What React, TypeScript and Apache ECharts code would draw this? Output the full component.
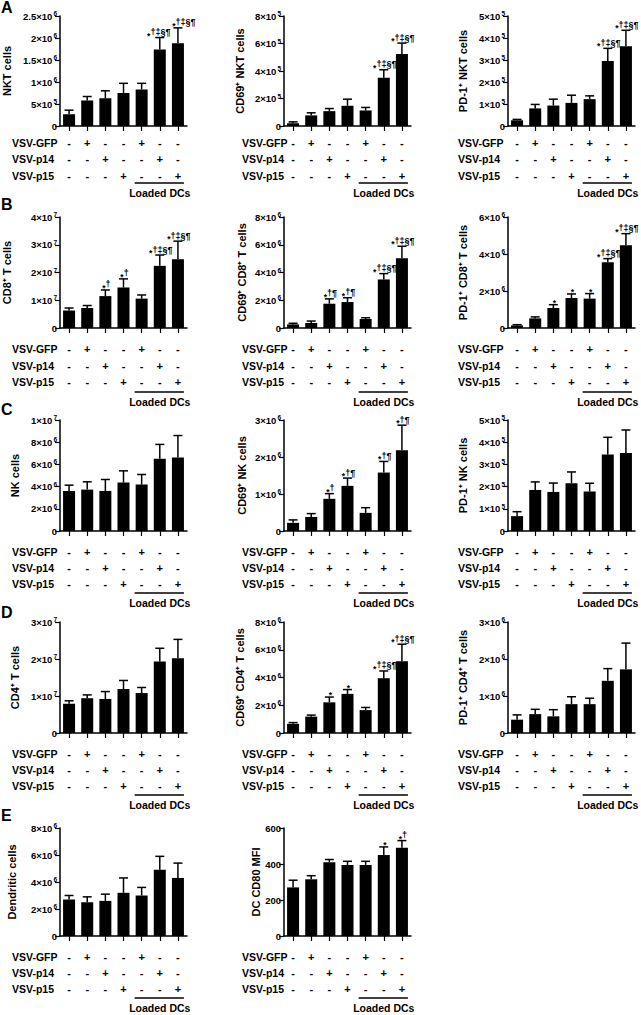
import React, { useEffect, useRef } from 'react';
import * as echarts from 'echarts';

// ---------- data ----------
const categories = ['G1', 'G2', 'G3', 'G4', 'G5', 'G6', 'G7'];
const vsvGFP = ['-', '+', '-', '-', '+', '-', '-'];
const vsvP14 = ['-', '-', '+', '-', '-', '+', '-'];
const vsvP15 = ['-', '-', '-', '+', '-', '-', '+'];
const rowLabels = ['VSV-GFP', 'VSV-p14', 'VSV-p15'];
const groupLabel = 'Loaded DCs';
const panelLetters = ['A', 'B', 'C', 'D', 'E'];

const sigAll = '*†‡§¶';

// A
const nktMean = [2.65e5, 5.8e5, 6.3e5, 7.5e5, 8.3e5, 1.74e6, 1.88e6];
const nktErr = [0.95e5, 0.9e5, 1.7e5, 2.2e5, 1.4e5, 2.7e5, 3.5e5];
const nktSig = ['', '', '', '', '', sigAll, sigAll];
const cd69NktMean = [2.0e4, 7.7e4, 1.08e5, 1.47e5, 1.13e5, 3.51e5, 5.24e5];
const cd69NktErr = [1.0e4, 1.9e4, 1.9e4, 4.8e4, 2.2e4, 5.8e4, 7.9e4];
const cd69NktSig = ['', '', '', '', '', sigAll, sigAll];
const pd1NktMean = [2.6e4, 8.0e4, 9.3e4, 1.05e5, 1.22e5, 2.96e5, 3.63e5];
const pd1NktErr = [0.4e4, 1.8e4, 2.9e4, 3.5e4, 1.5e4, 5.7e4, 7.2e4];
const pd1NktSig = ['', '', '', '', '', sigAll, sigAll];
// B
const cd8Mean = [0.63e7, 0.72e7, 1.15e7, 1.46e7, 1.06e7, 2.24e7, 2.48e7];
const cd8Err = [0.09e7, 0.09e7, 0.22e7, 0.31e7, 0.13e7, 0.39e7, 0.65e7];
const cd8Sig = ['', '', '*†', '*†', '', sigAll, sigAll];
const cd69Cd8Mean = [0.26e6, 0.36e6, 1.75e6, 1.87e6, 0.65e6, 3.5e6, 5.02e6];
const cd69Cd8Err = [0.08e6, 0.14e6, 0.35e6, 0.31e6, 0.09e6, 0.42e6, 0.87e6];
const cd69Cd8Sig = ['', '', '*†¶', '*†¶', '', sigAll, sigAll];
const pd1Cd8Mean = [0.14e6, 0.52e6, 1.08e6, 1.62e6, 1.59e6, 3.55e6, 4.47e6];
const pd1Cd8Err = [0.04e6, 0.08e6, 0.18e6, 0.22e6, 0.27e6, 0.2e6, 0.63e6];
const pd1Cd8Sig = ['', '', '*', '*', '*', sigAll, sigAll];
// C
const nkMean = [3.61e6, 3.73e6, 3.61e6, 4.37e6, 4.19e6, 6.5e6, 6.63e6];
const nkErr = [0.52e6, 0.7e6, 1.03e6, 1.05e6, 0.9e6, 1.3e6, 1.97e6];
const nkSig = ['', '', '', '', '', '', ''];
const cd69NkMean = [0.22e6, 0.38e6, 0.87e6, 1.22e6, 0.49e6, 1.58e6, 2.18e6];
const cd69NkErr = [0.08e6, 0.09e6, 0.14e6, 0.21e6, 0.14e6, 0.3e6, 0.68e6];
const cd69NkSig = ['', '', '*†', '*†¶', '', '*†¶', '*†¶'];
const pd1NkMean = [0.67e5, 1.85e5, 1.76e5, 2.15e5, 1.78e5, 3.45e5, 3.51e5];
const pd1NkErr = [0.2e5, 0.36e5, 0.4e5, 0.51e5, 0.37e5, 0.77e5, 1.04e5];
const pd1NkSig = ['', '', '', '', '', '', ''];
// D
const cd4Mean = [0.79e7, 0.94e7, 0.92e7, 1.19e7, 1.08e7, 1.93e7, 2.02e7];
const cd4Err = [0.08e7, 0.09e7, 0.2e7, 0.23e7, 0.15e7, 0.36e7, 0.51e7];
const cd4Sig = ['', '', '', '', '', '', ''];
const cd69Cd4Mean = [0.66e6, 1.18e6, 2.21e6, 2.82e6, 1.65e6, 3.95e6, 5.18e6];
const cd69Cd4Err = [0.09e6, 0.11e6, 0.38e6, 0.31e6, 0.19e6, 0.52e6, 1.22e6];
const cd69Cd4Sig = ['', '', '*', '*', '', sigAll, sigAll];
const pd1Cd4Mean = [0.36e6, 0.51e6, 0.45e6, 0.78e6, 0.78e6, 1.41e6, 1.72e6];
const pd1Cd4Err = [0.13e6, 0.13e6, 0.18e6, 0.2e6, 0.16e6, 0.33e6, 0.71e6];
const pd1Cd4Sig = ['', '', '', '', '', '', ''];
// E
const dcMean = [2.7e6, 2.5e6, 2.6e6, 3.2e6, 3.0e6, 4.9e6, 4.3e6];
const dcErr = [0.3e6, 0.4e6, 0.5e6, 1.1e6, 0.6e6, 1.0e6, 1.1e6];
const dcSig = ['', '', '', '', '', '', ''];
const cd80Mean = [270, 315, 410, 395, 395, 450, 490];
const cd80Err = [40, 20, 15, 20, 20, 45, 40];
const cd80Sig = ['', '', '', '', '', '*', '*†'];

const panels = [
  { row: 0, col: 0, name: 'NKT cells', mean: nktMean, err: nktErr, sig: nktSig, max: 2.5e6, interval: 5e5 },
  { row: 0, col: 1, name: 'CD69⁺ NKT cells', mean: cd69NktMean, err: cd69NktErr, sig: cd69NktSig, max: 8e5, interval: 2e5 },
  { row: 0, col: 2, name: 'PD-1⁺ NKT cells', mean: pd1NktMean, err: pd1NktErr, sig: pd1NktSig, max: 5e5, interval: 1e5 },
  { row: 1, col: 0, name: 'CD8⁺ T cells', mean: cd8Mean, err: cd8Err, sig: cd8Sig, max: 4e7, interval: 1e7 },
  { row: 1, col: 1, name: 'CD69⁺ CD8⁺ T cells', mean: cd69Cd8Mean, err: cd69Cd8Err, sig: cd69Cd8Sig, max: 8e6, interval: 2e6 },
  { row: 1, col: 2, name: 'PD-1⁺ CD8⁺ T cells', mean: pd1Cd8Mean, err: pd1Cd8Err, sig: pd1Cd8Sig, max: 6e6, interval: 2e6 },
  { row: 2, col: 0, name: 'NK cells', mean: nkMean, err: nkErr, sig: nkSig, max: 1e7, interval: 2e6 },
  { row: 2, col: 1, name: 'CD69⁺ NK cells', mean: cd69NkMean, err: cd69NkErr, sig: cd69NkSig, max: 3e6, interval: 1e6 },
  { row: 2, col: 2, name: 'PD-1⁺ NK cells', mean: pd1NkMean, err: pd1NkErr, sig: pd1NkSig, max: 5e5, interval: 1e5 },
  { row: 3, col: 0, name: 'CD4⁺ T cells', mean: cd4Mean, err: cd4Err, sig: cd4Sig, max: 3e7, interval: 1e7 },
  { row: 3, col: 1, name: 'CD69⁺ CD4⁺ T cells', mean: cd69Cd4Mean, err: cd69Cd4Err, sig: cd69Cd4Sig, max: 8e6, interval: 2e6 },
  { row: 3, col: 2, name: 'PD-1⁺ CD4⁺ T cells', mean: pd1Cd4Mean, err: pd1Cd4Err, sig: pd1Cd4Sig, max: 3e6, interval: 1e6 },
  { row: 4, col: 0, name: 'Dendritic cells', mean: dcMean, err: dcErr, sig: dcSig, max: 8e6, interval: 2e6 },
  { row: 4, col: 1, name: 'DC CD80 MFI', mean: cd80Mean, err: cd80Err, sig: cd80Sig, max: 600, interval: 200, plain: true },
];

// ---------- layout ----------
const FONT = 'Arial, "Liberation Sans", Helvetica, sans-serif';
const colLeft = [60, 284, 508];
const plotW = 127;
const rowTop = [16, 217, 420, 622, 828];
const rowH = [110, 111, 111, 111, 108];
const signFirst = [17, 21, 21, 21, 21];
const signStep = [16.3, 16.5, 16, 16, 16];
const lineOff = [57, 64, 62, 62, 62];
const textOff = [67, 74, 72, 72, 72];
const rowLabelX = [12, 242, 458];
const nameCenter = [
  [7, 240, 463],
  [7, 242, 463],
  [15, 242, 463],
  [15, 240, 463],
  [12, 258, 463],
];
const letterY = [7, 204, 409, 612, 815];
// horizontal nudges of significance marks (panel index -> per-bar px)
const sigNudge: Record<number, number[]> = { 0: [0, 0, 0, 0, 0, -2, 5] };
const SIG_SIZE = 9;
const STAR_SIZE = 8.5;

function sciRich(v: number): string {
  if (v === 0) return '{b|0}';
  const e = Math.floor(Math.log10(v) + 1e-9);
  const m = Math.round((v / Math.pow(10, e)) * 10) / 10;
  return `{b|${m}×10}{s|${e}}`;
}

function buildOption() {
  const grid: any[] = [];
  const xAxis: any[] = [];
  const yAxis: any[] = [];
  const series: any[] = [];
  const graphic: any[] = [];

  panels.forEach((p, i) => {
    const left = colLeft[p.col];
    const top = rowTop[p.row];
    const h = rowH[p.row];
    grid.push({ left, top, width: plotW, height: h, containLabel: false });
    xAxis.push({
      type: 'category',
      gridIndex: i,
      data: categories,
      axisLine: { show: true, lineStyle: { color: '#000', width: 1.5 } },
      axisTick: { show: true, alignWithLabel: true, length: 5, lineStyle: { color: '#000', width: 1.2 } },
      axisLabel: {
        show: true,
        interval: 0,
        margin: signFirst[p.row] - signStep[p.row] / 2,
        verticalAlign: 'top',
        lineHeight: signStep[p.row],
        fontSize: 11,
        fontWeight: 'bold',
        fontFamily: FONT,
        color: '#000',
        formatter: (_v: string, idx: number) => `${vsvGFP[idx]}\n${vsvP14[idx]}\n${vsvP15[idx]}`,
      },
      splitLine: { show: false },
    });
    const nameGap = left - nameCenter[p.row][p.col] - 5.5;
    yAxis.push({
      type: 'value',
      gridIndex: i,
      min: 0,
      max: p.max,
      interval: p.interval,
      name: p.name,
      nameLocation: 'middle',
      nameRotate: 90,
      nameGap,
      nameTextStyle: { fontSize: 11, fontWeight: 'bold', fontFamily: FONT, color: '#000' },
      axisLine: { show: true, lineStyle: { color: '#000', width: 1.5 } },
      axisTick: { show: true, length: 5, lineStyle: { color: '#000', width: 1.2 } },
      splitLine: { show: false },
      axisLabel: {
        color: '#000',
        margin: 3,
        formatter: (v: number) => (p.plain ? `{b|${v}}` : sciRich(v)),
        rich: {
          b: { fontSize: 9.5, fontWeight: 'bold', fontFamily: FONT, color: '#000', lineHeight: 12, verticalAlign: 'middle' },
          s: { fontSize: 6.5, fontWeight: 'bold', fontFamily: FONT, color: '#000', lineHeight: 7, verticalAlign: 'top', padding: [0, 0, 0, 1] },
        },
      },
    });
    series.push({
      type: 'bar',
      xAxisIndex: i,
      yAxisIndex: i,
      data: p.mean,
      barWidth: 12,
      itemStyle: { color: '#000' },
      silent: true,
    });
    const sig = p.sig;
    const nudge = sigNudge[i] || [0, 0, 0, 0, 0, 0, 0];
    series.push({
      type: 'custom',
      xAxisIndex: i,
      yAxisIndex: i,
      z: 5,
      silent: true,
      encode: { x: 0, y: 2 },
      data: p.mean.map((m, j) => [j, m, m + p.err[j]]),
      renderItem: (params: any, api: any) => {
        const idx = params.dataIndex;
        const base = api.coord([api.value(0), api.value(1)]);
        const tp = api.coord([api.value(0), api.value(2)]);
        const children: any[] = [
          { type: 'line', shape: { x1: base[0], y1: base[1], x2: tp[0], y2: tp[1] }, style: { stroke: '#000', lineWidth: 1.5 } },
          { type: 'line', shape: { x1: tp[0] - 4.5, y1: tp[1], x2: tp[0] + 4.5, y2: tp[1] }, style: { stroke: '#000', lineWidth: 1.5 } },
        ];
        const s = sig[idx];
        if (s) {
          const rest = s.slice(1);
          const restW = rest.length * SIG_SIZE * 0.556;
          const starW = STAR_SIZE * 0.389;
          const x0 = tp[0] + 1 + nudge[idx] - (restW - starW) / 2;
          children.push({
            type: 'text',
            x: x0,
            y: tp[1] - 2,
            style: {
              text: '*',
              fill: '#000',
              fontSize: STAR_SIZE,
              fontWeight: 'bold',
              fontFamily: FONT,
              align: 'right',
              verticalAlign: 'middle',
            },
          });
          if (rest) {
            children.push({
              type: 'text',
              x: x0,
              y: tp[1] - 1,
              style: {
                text: rest,
                fill: '#000',
                fontSize: SIG_SIZE,
                fontWeight: 'bold',
                fontFamily: FONT,
                align: 'left',
                verticalAlign: 'bottom',
              },
            });
          }
        }
        return { type: 'group', children };
      },
    });

    // row labels
    const zero = top + h;
    rowLabels.forEach((lab, k) => {
      graphic.push({
        type: 'text',
        x: rowLabelX[p.col],
        y: zero + signFirst[p.row] + k * signStep[p.row],
        style: { text: lab, fill: '#000', fontSize: 10.5, fontWeight: 'bold', fontFamily: FONT, align: 'left', verticalAlign: 'middle' },
      });
    });
    const bw = plotW / categories.length;
    const c5 = left + 4.5 * bw;
    const c6 = left + 5.5 * bw;
    const c7 = left + 6.5 * bw;
    graphic.push({
      type: 'line',
      shape: { x1: c5 - 7, y1: zero + lineOff[p.row], x2: c7 + 6, y2: zero + lineOff[p.row] },
      style: { stroke: '#000', lineWidth: 1.5 },
    });
    graphic.push({
      type: 'text',
      x: c6,
      y: zero + textOff[p.row],
      style: { text: groupLabel, fill: '#000', fontSize: 10.5, fontWeight: 'bold', fontFamily: FONT, align: 'center', verticalAlign: 'middle' },
    });
  });

  panelLetters.forEach((l, r) => {
    graphic.push({
      type: 'text',
      x: 1,
      y: letterY[r],
      style: { text: l, fill: '#000', fontSize: 16, fontWeight: 'bold', fontFamily: FONT, align: 'left', verticalAlign: 'middle' },
    });
  });

  return { animation: false, backgroundColor: '#fff', grid, xAxis, yAxis, series, graphic };
}

export default function App() {
  const ref = useRef<HTMLDivElement>(null);
  useEffect(() => {
    document.body.style.margin = '0';
    if (!ref.current) return;
    const chart = echarts.init(ref.current, undefined, { renderer: 'svg' });
    chart.setOption(buildOption() as any);
    return () => chart.dispose();
  }, []);
  return <div ref={ref} style={{ width: 641, height: 1015, position: 'absolute', left: 0, top: 0 }} />;
}
